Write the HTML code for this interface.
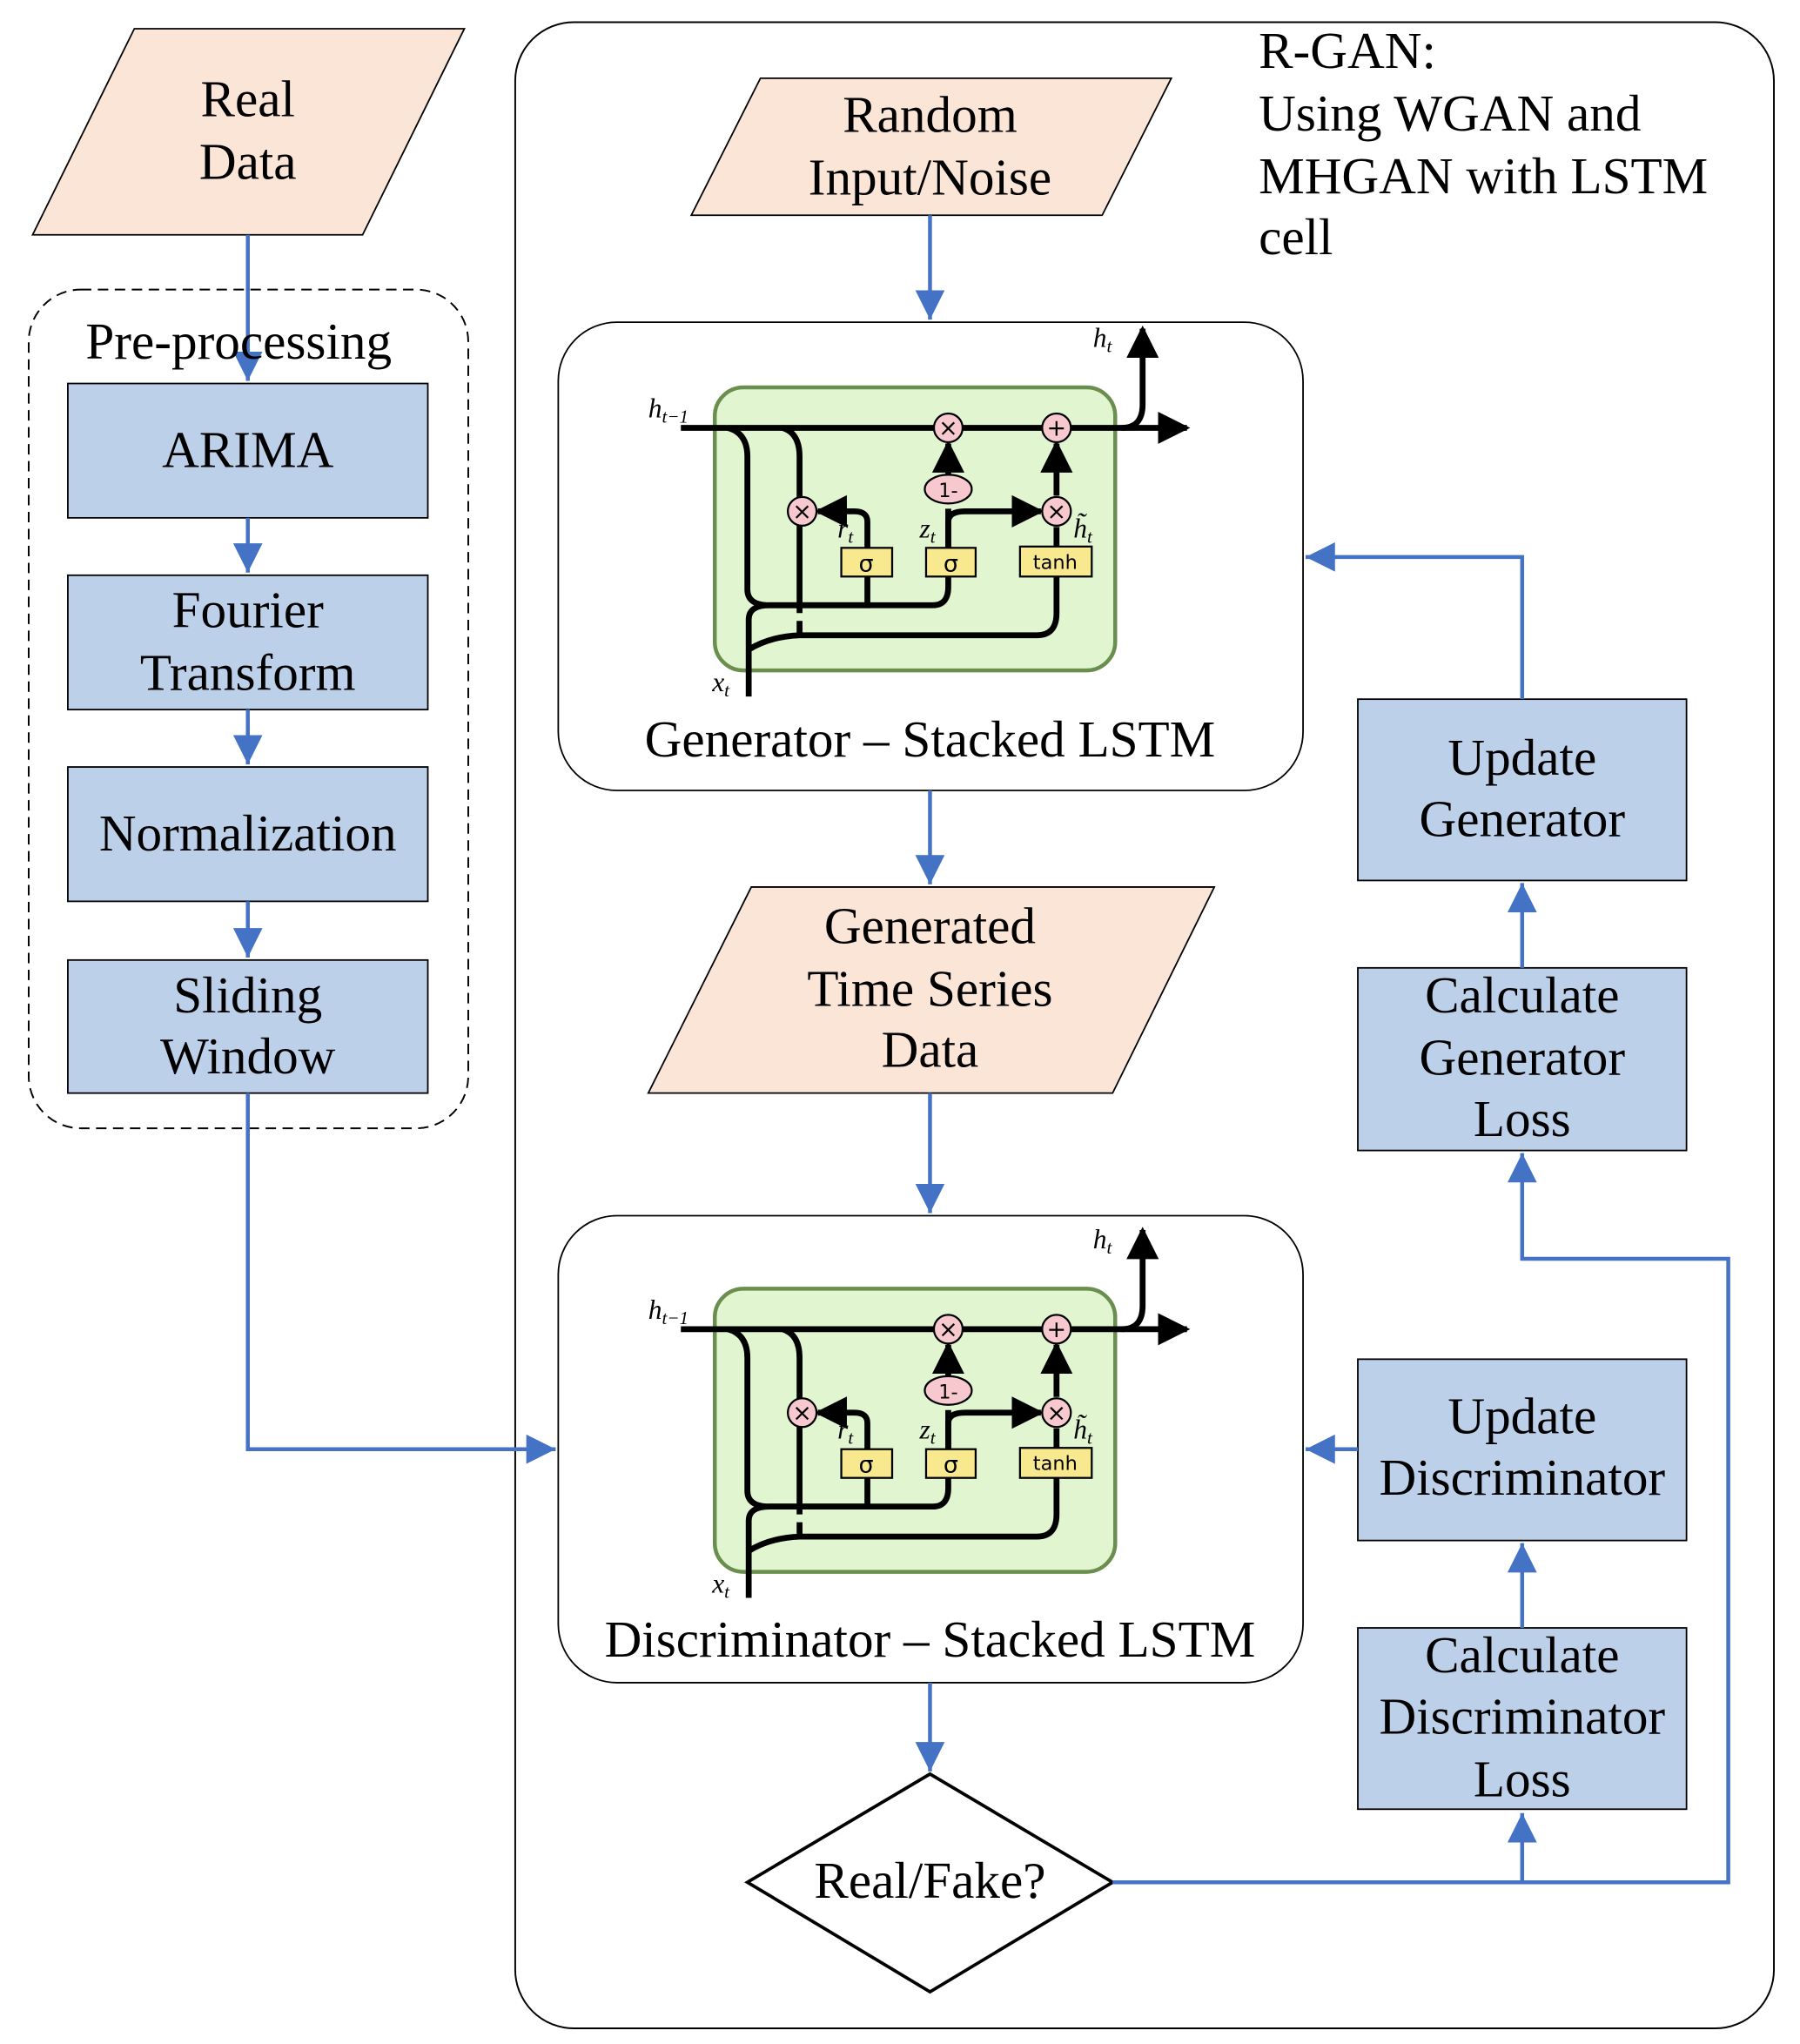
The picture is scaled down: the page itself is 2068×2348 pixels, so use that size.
<!DOCTYPE html>
<html><head><meta charset="utf-8"><style>html,body{margin:0;padding:0;background:#fff}svg{display:block}</style></head>
<body>
<svg width="2068" height="2348" viewBox="0 0 1380 1567" preserveAspectRatio="none" xmlns="http://www.w3.org/2000/svg" font-family="'Liberation Serif', serif">
<defs>
<marker id="ab" viewBox="0 0 10 10" refX="10" refY="5" markerWidth="7.5" markerHeight="7.5" markerUnits="strokeWidth" orient="auto"><path d="M0,0 L10,5 L0,10 z" fill="#4472C4"/></marker>
<marker id="ak" viewBox="0 0 10 10" refX="9" refY="5" markerWidth="5.5" markerHeight="5.5" markerUnits="strokeWidth" orient="auto"><path d="M0,0 L10,5 L0,10 z" fill="#000"/></marker>
<g id="cell">
<rect x="548" y="297" width="307" height="217" rx="22" fill="#E0F5D0" stroke="#6A8E4E" stroke-width="3"/>
<g fill="none" stroke="#000" stroke-width="4.5">
<path d="M522,328 H860 Q876,328 876,310 V252" marker-end="url(#ak)"/>
<path d="M860,328 H910" marker-end="url(#ak)"/>
<path d="M558,328 Q573,332 573,350 V452 Q573,464 590,464 H665 V442"/>
<path d="M590,464 H715 Q727,464 727,450 V442"/>
<path d="M600,328 Q613,332 613,350 V470"/>
<path d="M613,476 V486"/>
<path d="M574,534 V475 Q574,464 590,464"/>
<path d="M574,498 Q590,488 613,487 H795 Q810,487 810,470 V442"/>
<path d="M665,420 V400 Q665,392 655,392 H627" marker-end="url(#ak)"/>
<path d="M727,420 V400 Q727,392 740,392 H798" marker-end="url(#ak)"/>
<path d="M727,420 V390"/>
<path d="M727,364 V340" marker-end="url(#ak)"/>
<path d="M810,420 V404"/>
<path d="M810,380 V340" marker-end="url(#ak)"/>
</g>
<g fill="#F7C9CF" stroke="#000" stroke-width="1.5">
<circle cx="727" cy="328" r="11"/><circle cx="810" cy="328" r="11"/>
<circle cx="615" cy="392" r="11"/><circle cx="810" cy="392" r="11"/>
<ellipse cx="727" cy="375" rx="18" ry="11"/>
</g>
<g fill="#F8E98E" stroke="#000" stroke-width="1.5">
<rect x="645" y="420" width="39" height="22"/><rect x="710" y="420" width="38" height="22"/><rect x="782" y="419" width="55" height="23"/>
</g>
<g font-family="'DejaVu Sans', sans-serif" font-size="18" text-anchor="middle">
<text x="727" y="334">×</text><text x="810" y="334">+</text><text x="615" y="398">×</text><text x="810" y="398">×</text>
<text x="727" y="381" font-size="15">1-</text>
<text x="664" y="438">σ</text><text x="729" y="438">σ</text><text x="809" y="436" font-size="15">tanh</text>
</g>
<g font-style="italic" font-size="21">
<text x="497" y="320">h<tspan font-size="14" dy="4">t−1</tspan></text>
<text x="838" y="266">h<tspan font-size="14" dy="4">t</tspan></text>
<text x="642" y="412">r<tspan font-size="14" dy="4">t</tspan></text>
<text x="705" y="412">z<tspan font-size="14" dy="4">t</tspan></text>
<text x="823" y="412">h̃<tspan font-size="14" dy="4">t</tspan></text>
<text x="546" y="530">x<tspan font-size="14" dy="4">t</tspan></text>
</g>
</g>
</defs>

<rect x="395" y="17" width="965" height="1538" rx="45" fill="#fff" stroke="#000" stroke-width="1.3"/>
<rect x="22" y="222" width="337" height="643" rx="40" fill="none" stroke="#000" stroke-width="1.3" stroke-dasharray="8,5"/>

<g stroke="#000" stroke-width="1.2">
<polygon points="103,22 356,22 278,180 25,180" fill="#FBE5D6"/>
<polygon points="583,60 898,60 845,165 530,165" fill="#FBE5D6"/>
<polygon points="576,680 931,680 853,838 497,838" fill="#FBE5D6"/>
<rect x="52" y="294" width="276" height="103" fill="#BDD0E9"/>
<rect x="52" y="441" width="276" height="103" fill="#BDD0E9"/>
<rect x="52" y="588" width="276" height="103" fill="#BDD0E9"/>
<rect x="52" y="736" width="276" height="102" fill="#BDD0E9"/>
<rect x="1041" y="536" width="252" height="139" fill="#BDD0E9"/>
<rect x="1041" y="742" width="252" height="140" fill="#BDD0E9"/>
<rect x="1041" y="1042" width="252" height="139" fill="#BDD0E9"/>
<rect x="1041" y="1248" width="252" height="139" fill="#BDD0E9"/>
<rect x="428" y="247" width="571" height="359" rx="45" fill="#fff"/>
<rect x="428" y="932" width="571" height="358" rx="45" fill="#fff"/>
</g>
<polygon points="713,1360 853,1443 713,1527 573,1443" fill="#fff" stroke="#000" stroke-width="2.5"/>

<use href="#cell"/>
<use href="#cell" transform="translate(0,691)"/>

<g fill="none" stroke="#4472C4" stroke-width="3">
<path d="M190,180 V292" marker-end="url(#ab)"/>
<path d="M190,397 V439" marker-end="url(#ab)"/>
<path d="M190,544 V586" marker-end="url(#ab)"/>
<path d="M190,691 V734" marker-end="url(#ab)"/>
<path d="M190,838 V1111 H426" marker-end="url(#ab)"/>
<path d="M713,165 V245" marker-end="url(#ab)"/>
<path d="M713,606 V678" marker-end="url(#ab)"/>
<path d="M713,838 V930" marker-end="url(#ab)"/>
<path d="M713,1290 V1358" marker-end="url(#ab)"/>
<path d="M853,1443 H1325 V965 H1167 V884" marker-end="url(#ab)"/>
<path d="M1167,1443 V1390" marker-end="url(#ab)"/>
<path d="M1167,1248 V1183" marker-end="url(#ab)"/>
<path d="M1167,742 V677" marker-end="url(#ab)"/>
<path d="M1167,536 V427 H1001" marker-end="url(#ab)"/>
<path d="M1041,1111 H1001" marker-end="url(#ab)"/>
</g>

<g font-size="39.5" text-anchor="middle" fill="#000">
<text x="190" y="89">Real</text><text x="190" y="137">Data</text>
<text x="183" y="275">Pre-processing</text>
<text x="190" y="358">ARIMA</text>
<text x="190" y="481">Fourier</text><text x="190" y="529">Transform</text>
<text x="190" y="652">Normalization</text>
<text x="190" y="776">Sliding</text><text x="190" y="823">Window</text>
<text x="713" y="101">Random</text><text x="713" y="149">Input/Noise</text>
<text x="713" y="580">Generator – Stacked LSTM</text>
<text x="713" y="723">Generated</text><text x="713" y="771">Time Series</text><text x="713" y="818">Data</text>
<text x="713" y="1270">Discriminator – Stacked LSTM</text>
<text x="713" y="1455">Real/Fake?</text>
<text x="1167" y="594">Update</text><text x="1167" y="641">Generator</text>
<text x="1167" y="776">Calculate</text><text x="1167" y="824">Generator</text><text x="1167" y="871">Loss</text>
<text x="1167" y="1099">Update</text><text x="1167" y="1146">Discriminator</text>
<text x="1167" y="1282">Calculate</text><text x="1167" y="1329">Discriminator</text><text x="1167" y="1377">Loss</text>
</g>
<g font-size="39.5" fill="#000">
<text x="965" y="52">R-GAN:</text>
<text x="965" y="100">Using WGAN and</text>
<text x="965" y="148">MHGAN with LSTM</text>
<text x="965" y="195">cell</text>
</g>
</svg>
</body></html>
